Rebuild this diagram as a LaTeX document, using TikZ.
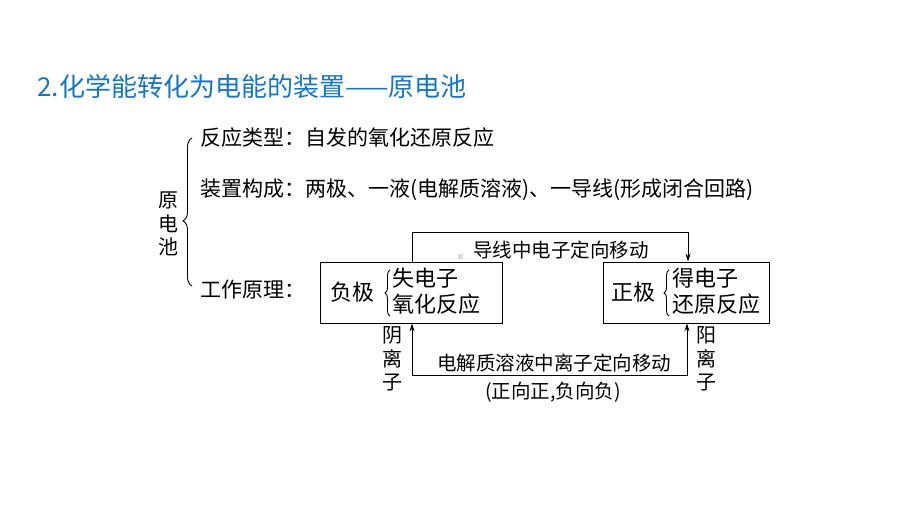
\documentclass[tikz,border=0pt]{standalone}
\usepackage{fontspec}
\setmainfont{Noto Sans CJK SC}
\usetikzlibrary{calc,arrows.meta,decorations.pathreplacing}
\definecolor{titleblue}{RGB}{23,118,196}
\tikzset{
  txt/.style={inner sep=0pt, anchor=west, font=\fontsize{21}{25}\selectfont},
  boxtxt/.style={inner sep=0pt, anchor=west, font=\fontsize{22}{25}\selectfont},
  lbl/.style={inner sep=0pt, font=\fontsize{19.5}{22}\selectfont},
  vtxt/.style={inner sep=0pt, align=center, font=\fontsize{20}{23.5}\selectfont},
  cbrace/.style={decorate, decoration={brace, amplitude=#1}},
  ebox/.style={draw, inner sep=0pt, minimum height=61},
}

\begin{document}
\begin{tikzpicture}[x=1pt, y=-1pt, line width=0.9pt, >={Stealth[length=8pt,width=5pt]}]
		%%%%% START %%%%%
		\useasboundingbox (0,0) rectangle (920,518);
		
		\node[anchor=west, inner sep=0pt, text=titleblue, font=\fontsize{26}{30}\selectfont] (title) at (37,87) {2.化学能转化为电能的装置——原电池};
		
		% left brace
		\node[vtxt] (ydc) at (168,224) {原\\电\\池};
		\draw[cbrace=9, decoration={aspect=0.44}] (192,286) -- (192,138);
		
		\node[txt] (lx) at (200,138) {反应类型：自发的氧化还原反应};
		\node[txt] (gc) at (200,190) {装置构成：两极、一液(电解质溶液)、一导线(形成闭合回路)};
		\node[txt] (yl) at (200,290) {工作原理：};
		
		% electrodes
		\node[ebox, minimum width=182] (fj) at (411,292.5) {};
		\node[boxtxt] (fjn) at (330,292) {负极};
		\draw[cbrace=5] (390,316) -- (390,270);
		\node[boxtxt] (fj1) at (392,278) {失电子};
		\node[boxtxt] (fj2) at (392,304) {氧化反应};
		
		\node[ebox, minimum width=166] (zj) at (686,292.5) {};
		\node[boxtxt] (zjn) at (611,292) {正极};
		\draw[cbrace=5] (669,316) -- (669,270);
		\node[boxtxt] (zj1) at (672,278) {得电子};
		\node[boxtxt] (zj2) at (672,304) {还原反应};
		
		% wire
		\coordinate (wl) at (412,232);
		\coordinate (wr) at (688,232);
		\draw[->] (fj.north -| wl) -- (wl) -- (wr) -- (zj.north -| wr);
		\node[lbl] (dx) at (561,250) {导线中电子定向移动};
		\fill[black!15] (458,254) rectangle (463,259);
		
		% solution
		\coordinate (il) at (412,375);
		\coordinate (ir) at (687,375);
		\draw[<->] (fj.south -| il) -- (il) -- (ir) -- (zj.south -| ir);
		\node[lbl] (jz) at (554,363) {电解质溶液中离子定向移动};
		\node[lbl] (zx) at (553,392) {(正向正,负向负)};
		\node[vtxt] (yin) at (392,359) {阴\\离\\子};
		\node[vtxt] (yang) at (706,359) {阳\\离\\子};
		
		%%%%% END %%%%%
	\end{tikzpicture}
\end{document}
